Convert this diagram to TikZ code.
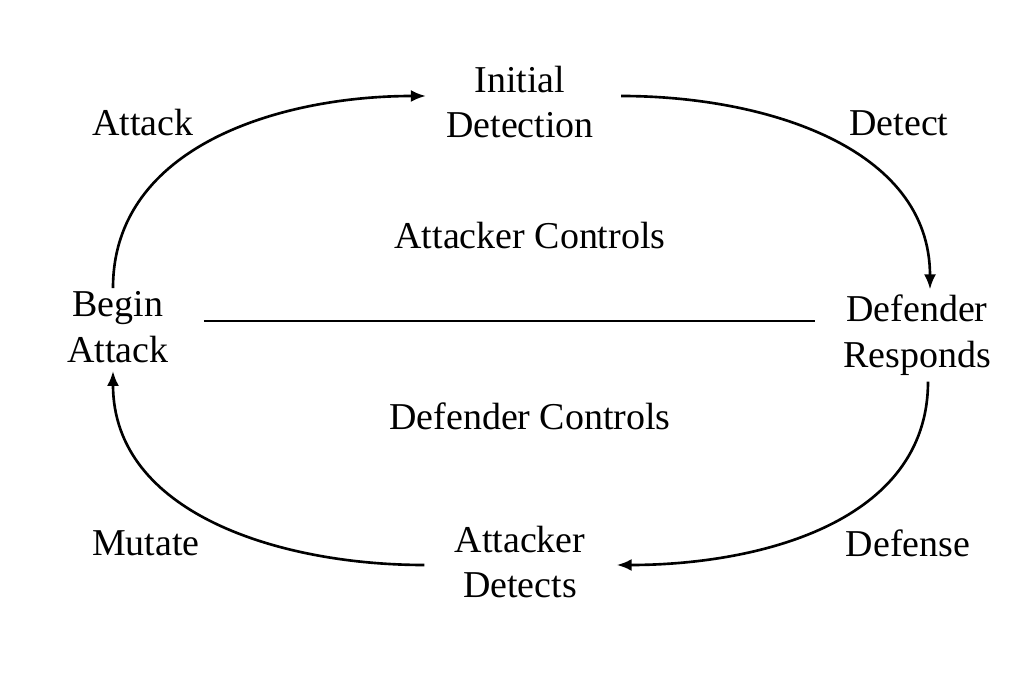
\documentclass[tikz,border=0pt]{standalone}
\usepackage{fontspec}
\setmainfont{Liberation Serif}
\usetikzlibrary{arrows.meta}

\tikzset{
	lbl/.style={font=\fontsize{21.6}{26}\selectfont, align=center, inner sep=0pt},
	cyc/.style={->, line width=1.5pt}
}

\begin{document}
\begin{tikzpicture}[>={Latex[length=3mm,width=2.4mm]}, x=0.02cm, y=-0.02cm]
		\useasboundingbox (0,0) rectangle (1024,678);
		%stages
		\node [lbl] (init) at (520,102) {Initial\\Detection};
		\node [lbl] (resp) at (917,335) {Defender\\Responds};
		\node [lbl] (adet) at (520,562) {Attacker\\Detects};
		\node [lbl] (begin) at (118,327) {Begin\\Attack};
		%edge labels
		\node [lbl] (attack) at (143,123) {Attack};
		\node [lbl] (detect) at (899,123) {Detect};
		\node [lbl] (defense) at (908,543) {Defense};
		\node [lbl] (mutate) at (146,543) {Mutate};
		%halves
		\node [lbl] (actrl) at (530,236) {Attacker Controls};
		\node [lbl] (dctrl) at (530,416) {Defender Controls};
		%cycle
		\draw [cyc] ([shift={(-5,-3)}]begin.north) to [out=90, in=180] ([shift={(-20,-6)}]init.west);
		\draw [cyc] ([shift={(27,-6)}]init.east) to [out=0, in=90] ([shift={(13,-5)}]resp.north);
		\draw [cyc] ([shift={(11,6)}]resp.south) to [out=-90, in=0] ([shift={(31,3)}]adet.east);
		\draw [cyc] ([shift={(-30,3)}]adet.west) to [out=180, in=-90] ([shift={(-5,8)}]begin.south);
		\draw [line width=1.5pt] ([xshift=35*0.02cm, yshift=6*0.02cm]begin.east) -- ([xshift=-28*0.02cm, yshift=6*0.02cm]resp.west |- begin.east);
	\end{tikzpicture}
\end{document}
